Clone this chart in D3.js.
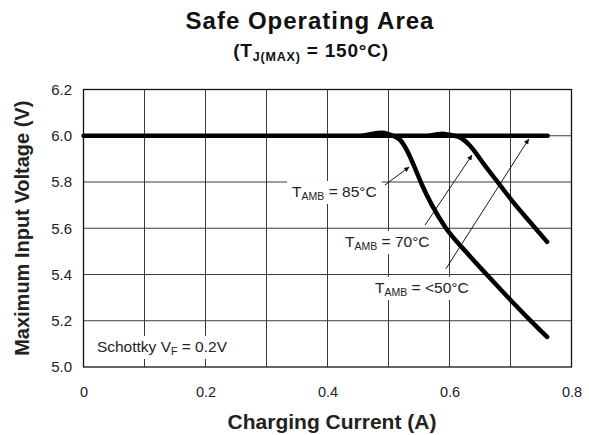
<!DOCTYPE html>
<html><head><meta charset="utf-8">
<script src="https://cdn.jsdelivr.net/npm/d3@7"></script>
<style>
body{margin:0;background:#fff;}
text{font-family:"Liberation Sans",Arial,Helvetica,sans-serif;}
</style></head>
<body><svg id="c" width="589" height="435"></svg>
<script>
// ---- data ----
const xTickValues = [0, 0.2, 0.4, 0.6, 0.8];
const xTickLabels = ["0", "0.2", "0.4", "0.6", "0.8"];
const xGridValues = [0.1, 0.2, 0.3, 0.4, 0.5, 0.6, 0.7];
const yTickValues = [5.0, 5.2, 5.4, 5.6, 5.8, 6.0, 6.2];
const yTickLabels = ["5.0", "5.2", "5.4", "5.6", "5.8", "6.0", "6.2"];

// T_AMB <= 50°C : flat limit
const current50 = [0, 0.761];
const voltage50 = [6.0, 6.0];
// T_AMB = 85°C
const current85 = [0.458, 0.472, 0.489, 0.5, 0.507, 0.519, 0.530, 0.542, 0.555, 0.571, 0.594, 0.627, 0.661, 0.700, 0.732, 0.760];
const voltage85 = [6.0, 6.008, 6.013, 6.007, 6.0, 5.982, 5.938, 5.869, 5.787, 5.701, 5.601, 5.498, 5.400, 5.290, 5.203, 5.130];
// T_AMB = 70°C
const current70 = [0.567, 0.578, 0.589, 0.600, 0.608, 0.617, 0.634, 0.655, 0.680, 0.704, 0.732, 0.760];
const voltage70 = [6.0, 6.006, 6.009, 6.004, 6.0, 5.993, 5.956, 5.882, 5.796, 5.714, 5.627, 5.541];

// annotation labels
const labelMain = ["T", "T", "T"];
const labelSub = ["AMB", "AMB", "AMB"];
const labelRest = [" = 85°C", " = 70°C", " = <50°C"];
const labelAt = [[0.342, 5.735], [0.4287, 5.519], [0.478, 5.32]];
const arrowFrom = [[0.494, 5.787], [0.560, 5.614], [0.594, 5.424]];
const arrowTo = [[0.534, 5.865], [0.637, 5.917], [0.730, 5.986]];

// ---- chart ----
const svg = d3.select("#c");
const x = d3.scaleLinear().domain([0, 0.8]).range([83.5, 571.5]);
const y = d3.scaleLinear().domain([5.0, 6.2]).range([367, 89.5]);

const font = '"Liberation Sans",Arial,Helvetica,sans-serif';

// grid
const grid = svg.append("g");
grid.selectAll("line.v").data(xGridValues).enter().append("line")
  .attr("x1", d => x(d)).attr("x2", d => x(d))
  .attr("y1", y(5.0)).attr("y2", y(6.2))
  .attr("stroke", "#3a3a3a").attr("stroke-width", 1);
grid.selectAll("line.h").data(yTickValues.slice(1, -1)).enter().append("line")
  .attr("x1", x(0)).attr("x2", x(0.8))
  .attr("y1", d => y(d)).attr("y2", d => y(d))
  .attr("stroke", "#3a3a3a").attr("stroke-width", 1);

// frame
svg.append("rect").attr("x", x(0)).attr("y", y(6.2))
  .attr("width", x(0.8) - x(0)).attr("height", y(5.0) - y(6.2))
  .attr("fill", "none").attr("stroke", "#111").attr("stroke-width", 1.3);

// axes (labels only)
const xAxis = d3.axisBottom(x).tickValues(xTickValues)
  .tickFormat((d, i) => xTickLabels[i]).tickSize(0).tickPadding(20);
const gx = svg.append("g").attr("transform", `translate(0,${y(5.0)})`).call(xAxis);
gx.select(".domain").remove();
gx.selectAll("text").attr("font-size", 14.5).attr("font-family", font).attr("fill", "#222");

const yAxis = d3.axisLeft(y).tickValues(yTickValues)
  .tickFormat((d, i) => yTickLabels[i]).tickSize(0).tickPadding(11.5);
const gy = svg.append("g").attr("transform", `translate(${x(0)},0)`).call(yAxis);
gy.select(".domain").remove();
gy.selectAll("text").attr("font-size", 15).attr("font-family", font).attr("fill", "#222");

// label helper with white background
function subLabel(px, py, main, sub, rest, size, subSize) {
  const g = svg.append("g");
  const bg = g.append("rect").attr("fill", "#fff");
  const t = g.append("text").attr("x", px).attr("y", py)
    .attr("font-size", size).attr("fill", "#222");
  t.append("tspan").text(main);
  t.append("tspan").attr("font-size", subSize).attr("dy", 3).text(sub);
  t.append("tspan").attr("dy", -3).text(rest);
  const b = t.node().getBBox();
  bg.attr("x", b.x - 5).attr("y", b.y - 2).attr("width", b.width + 10).attr("height", b.height + 4);
  return g;
}

for (let i = 0; i < labelRest.length; i++) {
  subLabel(x(labelAt[i][0]), y(labelAt[i][1]), labelMain[i], labelSub[i], labelRest[i], 15.5, 10.5);
}
// Schottky label
subLabel(x(0.022), y(5.065), "Schottky V", "F", " = 0.2V", 15.5, 10.5);

// curves
const line = d3.line().x(d => x(d[0])).y(d => y(d[1])).curve(d3.curveMonotoneX);
const series = [
  [current50, voltage50],
  [current85, voltage85],
  [current70, voltage70]
];
svg.append("g").selectAll("path").data(series).enter().append("path")
  .attr("d", s => line(s[0].map((c, i) => [c, s[1][i]])))
  .attr("fill", "none").attr("stroke", "#000").attr("stroke-width", 4.5)
  .attr("stroke-linecap", "round").attr("stroke-linejoin", "round");

// arrows
svg.append("defs").append("marker").attr("id", "ah")
  .attr("viewBox", "0 0 10 10").attr("refX", 10).attr("refY", 5)
  .attr("markerWidth", 7).attr("markerHeight", 5).attr("markerUnits", "userSpaceOnUse")
  .attr("orient", "auto")
  .append("path").attr("d", "M0,0L10,5L0,10Z").attr("fill", "#000");
svg.append("g").selectAll("line").data(arrowFrom).enter().append("line")
  .attr("x1", d => x(d[0])).attr("y1", d => y(d[1]))
  .attr("x2", (d, i) => x(arrowTo[i][0])).attr("y2", (d, i) => y(arrowTo[i][1]))
  .attr("stroke", "#000").attr("stroke-width", 0.9).attr("marker-end", "url(#ah)");

// titles
svg.append("text").attr("x", 310).attr("y", 29)
  .attr("text-anchor", "middle").attr("font-size", 24).attr("font-weight", "bold")
  .attr("letter-spacing", 1).attr("fill", "#111").text("Safe Operating Area");
const sub = svg.append("text").attr("x", 311).attr("y", 57)
  .attr("text-anchor", "middle").attr("font-size", 19).attr("font-weight", "bold")
  .attr("letter-spacing", 0.8).attr("fill", "#111");
sub.append("tspan").text("(T");
sub.append("tspan").attr("font-size", 12.5).attr("dy", 4).text("J(MAX)");
sub.append("tspan").attr("dy", -4).text(" = 150°C)");

svg.append("text").attr("x", 332).attr("y", 429).attr("text-anchor", "middle")
  .attr("font-size", 21).attr("font-weight", "bold").attr("fill", "#222")
  .text("Charging Current (A)");
svg.append("text").attr("transform", `translate(29,${(y(5.0) + y(6.2)) / 2}) rotate(-90)`)
  .attr("text-anchor", "middle").attr("font-size", 20).attr("font-weight", "bold").attr("fill", "#222")
  .text("Maximum Input Voltage (V)");
</script></body></html>
